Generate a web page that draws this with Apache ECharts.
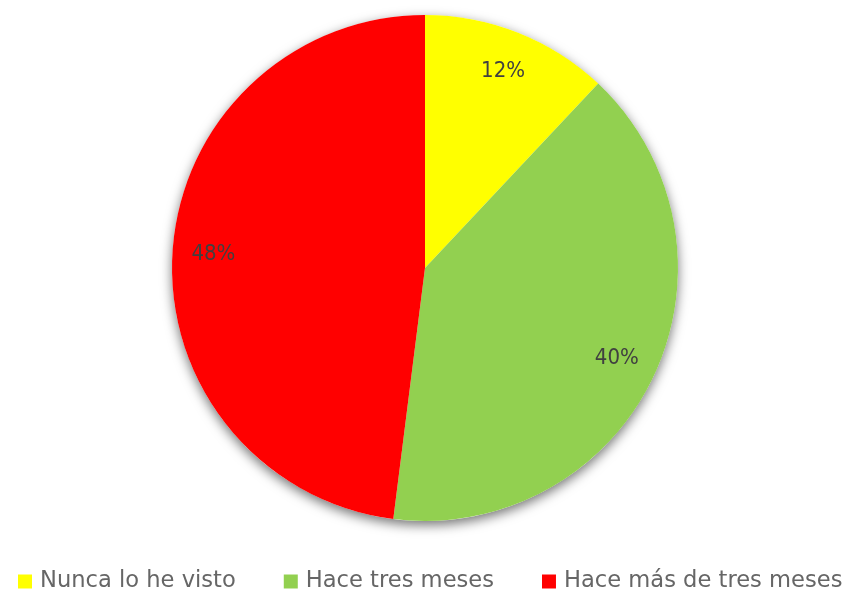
<!DOCTYPE html>
<html>
<head>
<meta charset="utf-8">
<script src="https://cdn.jsdelivr.net/npm/echarts@6/dist/echarts.min.js"></script>
<style>
  html, body { margin: 0; padding: 0; background: #fff; }
  #main { width: 852px; height: 592px; }
</style>
</head>
<body>
<div id="main"></div>
<script>
var categories = ['Nunca lo he visto', 'Hace tres meses', 'Hace más de tres meses']
var values = [12, 40, 48]
var colors = ['#ffff00', '#92d050', '#ff0000']

var font = '"DejaVu Sans", sans-serif'

var pieData = categories.map(function(name, i) {
  return { name: name, value: values[i], itemStyle: { color: colors[i] } }
})

var myChart = echarts.init(document.getElementById('main'))

var option = {
  backgroundColor: '#fff',
  color: colors,
  legend: {
    top: 565,
    left: 13,
    itemWidth: 14,
    itemHeight: 14,
    itemGap: 48,
    icon: 'rect',
    data: categories,
    textStyle: { fontFamily: font, fontSize: 22.6, color: '#666666', padding: [0, 0, 0, 3] }
  },
  series: [
    {
      // shadow underneath the pie
      type: 'pie',
      silent: true,
      center: [425, 268],
      radius: 253,
      label: { show: false },
      itemStyle: {
        color: '#fff',
        shadowBlur: 12,
        shadowColor: 'rgba(0,0,0,0.55)',
        shadowOffsetY: 4
      },
      data: [{ value: 1, name: '' }],
      z: 1
    },
    {
      type: 'pie',
      center: [425, 268],
      radius: 253,
      startAngle: 90,
      clockwise: true,
      label: { show: false },
      labelLine: { show: false },
      itemStyle: { borderWidth: 0 },
      emphasis: { disabled: true },
      data: pieData,
      z: 2
    },
    {
      // transparent ring to carry the percentage labels
      type: 'pie',
      silent: true,
      center: [425, 268],
      radius: [165, 253],
      startAngle: 90,
      clockwise: true,
      itemStyle: { color: 'transparent' },
      label: {
        show: true,
        position: 'inside',
        formatter: '{d}%',
        fontFamily: '"DejaVu Sans Condensed", "DejaVu Sans", sans-serif',
        fontSize: 22,
        color: '#404040'
      },
      labelLine: { show: false },
      data: categories.map(function(name, i) { return { name: name, value: values[i] } }),
      z: 3
    }
  ]
}

myChart.setOption(option)
</script>
</body>
</html>
